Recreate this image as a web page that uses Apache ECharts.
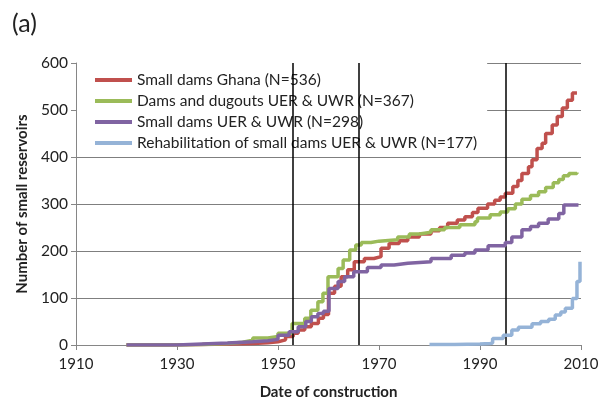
<!DOCTYPE html>
<html><head><meta charset="utf-8">
<script src="https://cdn.jsdelivr.net/npm/echarts@6/dist/echarts.min.js"></script>
<style>html,body{margin:0;padding:0;background:#fff}#c{width:600px;height:401px}</style>
</head><body><div id="c"></div>
<script>
const seriesNames = ['Small dams Ghana (N=536)','Dams and dugouts UER & UWR (N=367)','Small dams UER & UWR (N=298)','Rehabilitation of small dams UER & UWR (N=177)'];
const ghanaYears = [1920,1928,1935,1940,1945,1948,1950,1951.5,1953,1954,1955.3,1956.6,1958,1959,1960,1961.2,1962.5,1963.8,1965.1,1967.1,1969,1970.4,1972,1974,1975.7,1978,1980.3,1982,1983.6,1985.5,1987,1988.5,1989.6,1991.5,1992.9,1994,1995,1996.5,1997.5,1998.3,1999.6,2000.3,2001.3,2002.3,2003,2004.3,2005.3,2006.3,2007.3,2008.3,2009.2];
const ghanaValues = [0,1,2,3,5,7,11,18,25,32,39,46,57,65,110,125,145,160,177,184,188,206,216,222,230,236,243,250,259,266,273,282,291,300,308,315,323,337,350,365,379,394,418,429,450,468,486,504,521,536,536];
const dugoutYears = [1920,1930,1935,1940,1943,1945,1948,1950,1952.8,1955.3,1956.5,1957.9,1958.9,1959.9,1961.9,1962.9,1964.2,1965.4,1966.5,1968.4,1970,1973.7,1976,1978,1980.3,1983,1986,1989,1989.5,1992,1994,1995.5,1997,1998.3,2000,2001.6,2003,2004.5,2005.6,2006.5,2007.6,2009.2];
const dugoutValues = [0,1,3,6,10,15,18,25,46,57,74,92,110,145,163,181,202,213,218,221,224,230,236,240,245,250,256,262,270,277,283,290,300,310,318,326,335,345,352,360,365,367];
const uerYears = [1920,1930,1935,1940,1945,1948,1950,1952.2,1954,1955.5,1956.6,1957.9,1959,1960.1,1961.9,1963.2,1965,1967.7,1970.4,1973,1975.7,1980.3,1984.3,1987,1989,1991.6,1995,1996.3,1998.3,2000,2001.6,2003.5,2005.6,2006.6,2009.5];
const uerValues = [0,2,4,7,9,12,21,28,39,50,60,67,72,120,135,145,156,165,170,174,177,184,191,196,202,211,218,230,245,252,259,268,280,298,298];
const rehabYears = [1980,1985,1990,1992,1992.5,1994.6,1996.3,1997.6,2000.3,2002,2003.6,2004.9,2006,2006.9,2008.3,2009.2,2009.8];
const rehabValues = [1,2,3,4,14,21,32,38,45,50,55,64,70,78,99,135,177];
const markerYears = [1953,1966,1995];
const xTicks = {min:1910, max:2010, interval:20};
const yTicks = {min:0, max:600, interval:100};
const colors = ['#C0504D','#9BBB59','#8064A2','#95B3D7'];

const zip = (xs, ys) => xs.map((x,i)=>[x, ys[i]]);
const datasets = [zip(ghanaYears,ghanaValues), zip(dugoutYears,dugoutValues), zip(uerYears,uerValues), zip(rehabYears,rehabValues)];
const font = 'Lato, "Open Sans", sans-serif';
const series = datasets.map((d,i)=>({
  name: seriesNames[i], type:'line', step:'end', data:d, showSymbol:false, symbol:'none',
  lineStyle:{color:colors[i], width:3.5}, itemStyle:{color:colors[i]}, z: 3 + i, animation:false
}));
series.push({
  name:'markers', type:'line', data:[], animation:false,
  markLine:{symbol:'none', silent:true, label:{show:false}, lineStyle:{color:'#000', width:1.5, type:'solid'},
    data: markerYears.map(y=>({xAxis:y}))}
});
const chart = echarts.init(document.getElementById('c'), null, {renderer:'canvas'});
chart.setOption({
  animation:false,
  color: colors,
  title:{text:'(a)', left:7, top:6, textStyle:{fontFamily:font, fontSize:25, fontWeight:'normal', color:'#222'}},
  grid:{left:76, right:19, top:63, bottom:56, containLabel:false, outerBoundsMode:'none'},
  legend:{data:seriesNames, orient:'vertical', left:77, top:63, padding:[9,10,0,18], itemGap:5,
    backgroundColor:'#fff', icon:'rect', itemWidth:37, itemHeight:4,
    textStyle:{fontFamily:font, fontSize:15.5, lineHeight:16, color:'#222'}},
  xAxis:{type:'value', min:xTicks.min, max:xTicks.max, interval:xTicks.interval,
    name:'Date of construction', nameLocation:'middle', nameGap:40,
    nameTextStyle:{fontFamily:font, fontSize:15, fontWeight:'bold', color:'#222'},
    axisLine:{lineStyle:{color:'#868686'}}, axisTick:{show:true, length:5, lineStyle:{color:'#868686'}},
    axisLabel:{fontFamily:font, fontSize:15, color:'#222', margin:12, formatter:v=>String(v)}, splitLine:{show:false}},
  yAxis:{type:'value', min:yTicks.min, max:yTicks.max, interval:yTicks.interval,
    name:'Number of small reservoirs', nameLocation:'middle', nameGap:46,
    nameTextStyle:{fontFamily:font, fontSize:15, fontWeight:'bold', color:'#222'},
    axisLine:{show:true, lineStyle:{color:'#868686'}}, axisTick:{show:true, length:5, lineStyle:{color:'#868686'}},
    axisLabel:{fontFamily:font, fontSize:15.5, color:'#222', margin:8},
    splitLine:{show:true, lineStyle:{color:'#7f7f7f', width:1}}},
  series: series
});
</script></body></html>
